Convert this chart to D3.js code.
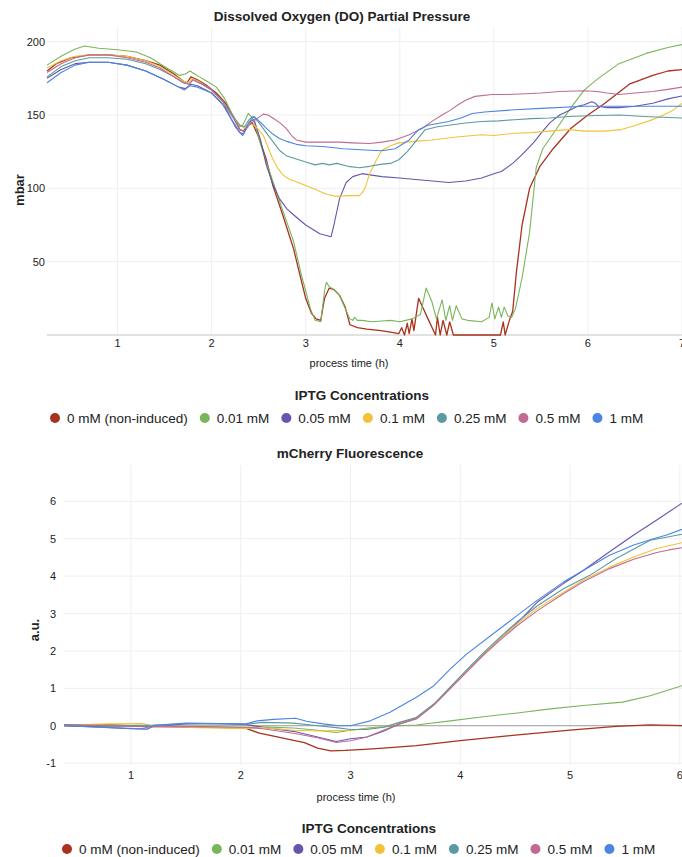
<!DOCTYPE html>
<html>
<head>
  <title>DO and mCherry</title>
  <script src="https://d3js.org/d3.v7.min.js"></script>
  <style>
    body, html {
      margin: 0;
      padding: 0;
      background: #fff;
      overflow: hidden;
    }
    text {
      font-family: "Liberation Sans", Arial, sans-serif;
      fill: #222;
    }
    .title, .legend-title, .ylabel {
      font-weight: bold;
    }
  </style>
</head>
<body>
  <div id="chart"></div>

  <script>
    // series names + colours (legend order)
    const seriesNames = ["0 mM (non-induced)", "0.01 mM", "0.05 mM", "0.1 mM", "0.25 mM", "0.5 mM", "1 mM"];
    const seriesColors = ["#a8321e", "#7ab55c", "#6655ad", "#f2c23a", "#5c9aa3", "#c06a94", "#4a86e0"];

    const doTicksX = [1, 2, 3, 4, 5, 6, 7];
    const doTicksY = [50, 100, 150, 200];
    const flTicksX = [1, 2, 3, 4, 5, 6];
    const flTicksY = [-1, 0, 1, 2, 3, 4, 5, 6];

    // Dissolved oxygen, [time h, mbar]
    const do0 = [[0.25,180],[0.35,185],[0.5,189],[0.7,191],[0.9,191],[1.1,190],[1.3,187],[1.45,184],[1.6,178],[1.7,173],[1.74,172],[1.78,176],[1.85,174],[1.95,170],[2.05,165],[2.15,158],[2.23,149],[2.3,140],[2.34,139],[2.38,143],[2.43,145],[2.5,135],[2.58,120],[2.65,102],[2.75,83],[2.87,59],[2.95,38],[3.0,25],[3.06,15],[3.11,11],[3.16,10],[3.2,25],[3.25,32],[3.3,31],[3.36,27],[3.42,19],[3.47,7],[3.55,5],[3.65,4],[3.8,3],[3.9,2],[3.99,1],[4.02,5],[4.05,0],[4.08,8],[4.1,1],[4.13,11],[4.15,3],[4.2,25],[4.25,18],[4.3,11],[4.38,0],[4.4,12],[4.43,0],[4.46,10],[4.5,0],[4.53,9],[4.57,0],[4.8,0],[5.07,0],[5.1,9],[5.12,0],[5.17,11],[5.2,16],[5.24,43],[5.3,75],[5.38,100],[5.49,115],[5.63,127],[5.82,141],[6.0,150],[6.18,158],[6.44,171],[6.69,177],[6.85,180],[7.0,181]];
    const do001 = [[0.25,184],[0.4,190],[0.55,195],[0.65,197],[0.8,195.5],[1.0,194.5],[1.2,193],[1.35,189],[1.45,185],[1.55,181],[1.66,177],[1.72,178],[1.77,180],[1.82,178],[1.87,176],[1.95,173],[2.05,169],[2.14,161],[2.2,153],[2.25,147],[2.3,142],[2.33,143],[2.39,151],[2.42,149],[2.45,146],[2.52,130],[2.58,118],[2.65,105],[2.75,86],[2.87,64],[2.95,42],[3.0,30],[3.05,18],[3.1,10],[3.16,9],[3.2,30],[3.22,36],[3.25,33],[3.3,31],[3.36,27],[3.42,18],[3.47,11],[3.5,10],[3.52,12],[3.55,10],[3.6,10],[3.7,9],[3.81,9.5],[3.9,10],[4.0,9],[4.13,11],[4.22,14],[4.28,32],[4.34,23],[4.39,11],[4.45,24],[4.49,10],[4.53,20],[4.56,10],[4.6,20],[4.66,11],[4.72,10],[4.87,9],[4.95,12],[4.98,22],[5.01,11],[5.05,19],[5.08,12],[5.11,19],[5.15,13],[5.19,12],[5.23,18],[5.3,39],[5.38,70],[5.45,114],[5.52,127],[5.67,141],[5.82,155],[5.96,167],[6.11,175],[6.33,185],[6.62,192],[6.85,196],[7.0,198]];
    const do005 = [[0.25,175],[0.4,181],[0.55,185],[0.7,186],[0.9,186],[1.1,184],[1.3,180],[1.5,174],[1.65,169],[1.72,168],[1.78,171],[1.85,170],[2.0,165],[2.12,157],[2.22,146],[2.3,138],[2.34,137],[2.4,145],[2.45,147],[2.52,133],[2.58,116],[2.65,103],[2.72,93],[2.8,86],[2.87,82],[3.0,75],[3.15,69],[3.27,67],[3.3,75],[3.36,93],[3.43,104],[3.5,108],[3.6,110],[3.7,109],[3.81,108],[4.0,107],[4.17,106],[4.35,105],[4.52,104],[4.7,105],[4.87,107],[5.0,110],[5.08,111.5],[5.2,117],[5.3,123],[5.42,131],[5.52,139],[5.6,145],[5.7,150],[5.8,153],[5.89,156],[5.96,157],[6.04,159],[6.08,158],[6.11,156],[6.2,155],[6.33,155],[6.5,156],[6.69,158],[6.85,161],[7.0,163]];
    const do01 = [[0.25,182],[0.4,187],[0.55,190],[0.7,191],[0.9,191],[1.1,190],[1.3,187],[1.45,183],[1.6,177],[1.7,173],[1.75,172],[1.79,175],[1.86,173],[2.0,167],[2.12,159],[2.22,149],[2.3,143],[2.35,141],[2.4,144],[2.45,143],[2.5,140],[2.55,136],[2.6,128],[2.65,120],[2.7,114],[2.76,109],[2.83,106],[2.9,104.5],[3.0,102],[3.11,99],[3.22,96],[3.33,94.5],[3.45,95],[3.57,95],[3.6,97],[3.63,100],[3.68,110],[3.74,118],[3.81,126],[3.9,129],[3.99,131],[4.15,132],[4.34,133],[4.6,135],[4.87,136.5],[5.0,136],[5.22,137.6],[5.4,138],[5.59,139],[5.8,140],[5.96,139],[6.18,139],[6.35,140],[6.51,143],[6.65,146],[6.77,149],[6.9,153],[7.0,158]];
    const do025 = [[0.25,176],[0.4,183],[0.55,187],[0.7,189],[0.9,189],[1.1,188],[1.3,185],[1.45,181],[1.6,176],[1.7,172],[1.76,171],[1.8,174],[1.9,171],[2.0,167],[2.12,159],[2.22,150],[2.3,143],[2.35,142],[2.4,147],[2.44,149],[2.5,145],[2.58,138],[2.65,132],[2.72,126],[2.8,122],[2.9,120],[3.0,118],[3.1,116],[3.18,117],[3.25,116],[3.33,117],[3.45,115],[3.57,114],[3.68,115],[3.81,116.5],[3.9,117],[3.99,119.5],[4.08,125],[4.17,132],[4.27,140],[4.4,142],[4.52,143],[4.7,144.5],[4.87,145.6],[5.05,146],[5.22,146.8],[5.4,147.5],[5.59,148],[5.8,149],[6.0,149.5],[6.33,150],[6.6,149],[7.0,148]];
    const do05 = [[0.25,179],[0.4,185],[0.55,189],[0.7,191],[0.9,191],[1.1,189],[1.3,186],[1.45,182],[1.6,176],[1.7,172],[1.76,171],[1.8,174],[1.9,171],[2.0,167],[2.12,159],[2.22,149],[2.3,140],[2.35,139],[2.4,143],[2.47,147],[2.55,150.6],[2.6,150],[2.65,148],[2.72,145],[2.79,141],[2.85,136],[2.9,133],[3.0,131.5],[3.15,131.5],[3.36,131.5],[3.5,131],[3.68,130.6],[3.81,131.5],[3.95,133],[4.1,136.5],[4.24,141],[4.35,146],[4.45,150],[4.53,153],[4.62,157],[4.7,160],[4.8,162.7],[4.98,164],[5.15,164],[5.34,164.5],[5.5,165],[5.7,166],[5.96,166.5],[6.1,166],[6.2,165],[6.33,164],[6.5,165],[6.69,166],[6.85,167.5],[7.0,169]];
    const do1 = [[0.25,172],[0.4,179],[0.55,184],[0.7,186],[0.9,186],[1.1,184],[1.3,180],[1.5,174],[1.65,169],[1.71,167],[1.77,170],[1.85,169],[2.0,165],[2.15,155],[2.25,142],[2.3,138],[2.33,136],[2.38,143],[2.42,147],[2.45,149],[2.52,145],[2.58,141],[2.65,137],[2.72,134],[2.8,132],[2.9,130],[3.0,129],[3.18,128.5],[3.4,127],[3.68,126],[3.81,125.6],[3.95,127],[4.1,133],[4.2,140],[4.3,143],[4.52,145.6],[4.65,148],[4.77,151],[4.9,152],[5.22,153.6],[5.5,154.5],[5.96,156],[6.5,156],[7.0,156]];

    // mCherry fluorescence, [time h, a.u.]
    const fl0 = [[0.39,0.03],[0.8,0.02],[1.2,-0.02],[1.6,-0.04],[2.0,-0.06],[2.05,-0.07],[2.17,-0.2],[2.3,-0.28],[2.46,-0.38],[2.58,-0.45],[2.7,-0.6],[2.82,-0.67],[2.95,-0.66],[3.13,-0.63],[3.3,-0.6],[3.6,-0.53],[4.0,-0.4],[4.5,-0.25],[5.0,-0.12],[5.42,-0.02],[5.73,0.02],[6.02,0.0]];
    const fl001 = [[0.39,0.0],[0.8,-0.02],[1.2,0.0],[1.6,-0.03],[2.05,-0.05],[2.2,-0.03],[2.48,-0.06],[2.7,-0.12],[2.87,-0.18],[3.0,-0.12],[3.2,-0.05],[3.45,0.0],[3.6,0.02],[3.91,0.13],[4.21,0.24],[4.52,0.34],[4.82,0.45],[5.12,0.54],[5.48,0.63],[5.73,0.8],[6.02,1.07]];
    const fl005 = [[0.39,0.0],[0.7,-0.03],[1.0,-0.08],[1.15,-0.09],[1.2,-0.02],[1.5,0.05],[1.8,0.06],[2.05,0.03],[2.2,-0.04],[2.48,-0.15],[2.7,-0.3],[2.87,-0.42],[3.0,-0.35],[3.15,-0.3],[3.3,-0.15],[3.45,0.05],[3.6,0.2],[3.76,0.56],[3.91,1.0],[4.06,1.45],[4.21,1.9],[4.36,2.32],[4.52,2.75],[4.7,3.3],[4.94,3.8],[5.12,4.15],[5.36,4.65],[5.58,5.1],[5.79,5.5],[6.02,5.95]];
    const fl01 = [[0.39,0.02],[0.8,0.05],[1.1,0.06],[1.2,0.0],[1.6,-0.05],[2.05,-0.07],[2.2,-0.05],[2.48,-0.12],[2.7,-0.14],[2.87,-0.13],[3.0,-0.12],[3.15,-0.08],[3.3,-0.04],[3.45,0.09],[3.6,0.22],[3.76,0.58],[3.91,1.03],[4.06,1.47],[4.21,1.92],[4.36,2.32],[4.52,2.73],[4.7,3.13],[4.94,3.57],[5.12,3.89],[5.36,4.24],[5.58,4.51],[5.79,4.74],[6.02,4.89]];
    const fl025 = [[0.39,0.03],[0.8,0.0],[1.2,0.02],[1.5,0.06],[1.8,0.05],[2.05,0.04],[2.2,0.09],[2.48,0.07],[2.7,0.0],[2.87,-0.05],[3.0,-0.1],[3.15,-0.1],[3.3,-0.04],[3.45,0.09],[3.6,0.22],[3.76,0.58],[3.91,1.04],[4.06,1.5],[4.21,1.95],[4.36,2.36],[4.52,2.78],[4.7,3.2],[4.94,3.66],[5.18,4.02],[5.42,4.47],[5.73,4.96],[5.9,5.05],[6.02,5.12]];
    const fl05 = [[0.39,0.02],[0.8,0.0],[1.2,-0.03],[1.6,-0.02],[2.05,-0.04],[2.2,-0.08],[2.48,-0.2],[2.7,-0.32],[2.87,-0.45],[3.0,-0.4],[3.15,-0.3],[3.3,-0.12],[3.45,0.05],[3.6,0.18],[3.76,0.55],[3.91,1.0],[4.06,1.44],[4.21,1.88],[4.36,2.28],[4.52,2.68],[4.7,3.07],[4.94,3.53],[5.12,3.85],[5.36,4.2],[5.58,4.45],[5.79,4.63],[5.9,4.7],[6.02,4.76]];
    const fl1 = [[0.39,0.0],[0.8,-0.05],[1.1,-0.08],[1.2,0.0],[1.5,0.07],[1.8,0.06],[2.05,0.05],[2.15,0.13],[2.3,0.17],[2.5,0.2],[2.6,0.12],[2.75,0.05],[2.9,0.0],[3.0,0.0],[3.18,0.13],[3.36,0.36],[3.6,0.76],[3.76,1.07],[3.91,1.52],[4.06,1.92],[4.3,2.46],[4.52,2.95],[4.7,3.35],[4.94,3.84],[5.12,4.15],[5.36,4.56],[5.58,4.83],[5.76,5.0],[5.88,5.1],[6.02,5.25]];

    const width = 682;
    const height = 857;

    const svg = d3.select("#chart")
      .append("svg")
      .attr("width", width)
      .attr("height", height);

    function drawChart(cfg) {
      const x = d3.scaleLinear().domain(cfg.xDomain).range([cfg.left, cfg.right]);
      const y = d3.scaleLinear().domain(cfg.yDomain).range([cfg.bottom, cfg.top]);
      const g = svg.append("g");

      // gridlines
      g.append("g")
        .selectAll("line.vg")
        .data(cfg.xTicks)
        .join("line")
        .attr("x1", d => x(d)).attr("x2", d => x(d))
        .attr("y1", cfg.top).attr("y2", cfg.bottom)
        .attr("stroke", "#efefef");
      g.append("g")
        .selectAll("line.hg")
        .data(cfg.yTicks.filter(d => d !== 0))
        .join("line")
        .attr("x1", cfg.left).attr("x2", cfg.right)
        .attr("y1", d => y(d)).attr("y2", d => y(d))
        .attr("stroke", "#efefef");

      // baseline at 0
      g.append("line")
        .attr("x1", cfg.left).attr("x2", cfg.right)
        .attr("y1", y(0)).attr("y2", y(0))
        .attr("stroke", cfg.baseColor);

      // tick labels
      g.append("g")
        .selectAll("text")
        .data(cfg.xTicks)
        .join("text")
        .attr("x", d => x(d))
        .attr("y", cfg.xTickY)
        .attr("text-anchor", "middle")
        .attr("font-size", 11)
        .text(d => d);
      g.append("g")
        .selectAll("text")
        .data(cfg.yTicks)
        .join("text")
        .attr("x", cfg.yTickX)
        .attr("y", d => y(d) + 4)
        .attr("text-anchor", "end")
        .attr("font-size", 11)
        .text(d => d);

      // lines
      const line = d3.line().x(d => x(d[0])).y(d => y(d[1]));
      g.append("g")
        .selectAll("path")
        .data(cfg.series)
        .join("path")
        .attr("d", d => line(d))
        .attr("fill", "none")
        .attr("stroke", (d, i) => seriesColors[i])
        .attr("stroke-width", (d, i) => i === 0 ? 1.3 : 1.1)
        .attr("stroke-linejoin", "round");

      // titles
      g.append("text")
        .attr("class", "title")
        .attr("x", cfg.titleX).attr("y", cfg.titleY)
        .attr("text-anchor", "middle")
        .attr("font-size", 13.5)
        .text(cfg.title);
      g.append("text")
        .attr("x", cfg.xLabelX).attr("y", cfg.xLabelY)
        .attr("text-anchor", "middle")
        .attr("font-size", 11)
        .text("process time (h)");
      g.append("text")
        .attr("class", "ylabel")
        .attr("transform", `translate(${cfg.yLabelX},${cfg.yLabelY}) rotate(-90)`)
        .attr("text-anchor", "middle")
        .attr("font-size", 13)
        .text(cfg.yLabel);

      // legend
      g.append("text")
        .attr("class", "legend-title")
        .attr("x", cfg.legendTitleX).attr("y", cfg.legendTitleY)
        .attr("text-anchor", "middle")
        .attr("font-size", 13.5)
        .text("IPTG Concentrations");

      let lx = cfg.legendX;
      seriesNames.forEach((name, i) => {
        g.append("circle")
          .attr("cx", lx).attr("cy", cfg.legendY - 5)
          .attr("r", 5)
          .attr("fill", seriesColors[i]);
        const t = g.append("text")
          .attr("x", lx + 12).attr("y", cfg.legendY)
          .attr("font-size", 13.5)
          .text(name);
        lx += 12 + t.node().getComputedTextLength() + 17;
      });
    }

    drawChart({
      title: "Dissolved Oxygen (DO) Partial Pressure",
      yLabel: "mbar",
      series: [do0, do001, do005, do01, do025, do05, do1],
      xDomain: [0.25, 7.0], yDomain: [0, 210],
      left: 47, right: 682, top: 27, bottom: 335,
      xTicks: doTicksX, yTicks: doTicksY,
      baseColor: "#c4c4c4",
      xTickY: 347, yTickX: 45,
      titleX: 342, titleY: 21,
      xLabelX: 349, xLabelY: 367,
      yLabelX: 24, yLabelY: 190,
      legendTitleX: 362, legendTitleY: 400,
      legendX: 55, legendY: 423
    });

    drawChart({
      title: "mCherry Fluorescence",
      yLabel: "a.u.",
      series: [fl0, fl001, fl005, fl01, fl025, fl05, fl1],
      xDomain: [0.39, 6.02], yDomain: [-1.05, 6.97],
      left: 64, right: 682, top: 465, bottom: 765,
      xTicks: flTicksX, yTicks: flTicksY,
      baseColor: "#9a9a9a",
      xTickY: 779, yTickX: 56,
      titleX: 350, titleY: 458,
      xLabelX: 356, xLabelY: 801,
      yLabelX: 39, yLabelY: 630,
      legendTitleX: 369, legendTitleY: 833,
      legendX: 67, legendY: 854
    });
  </script>
</body>
</html>
